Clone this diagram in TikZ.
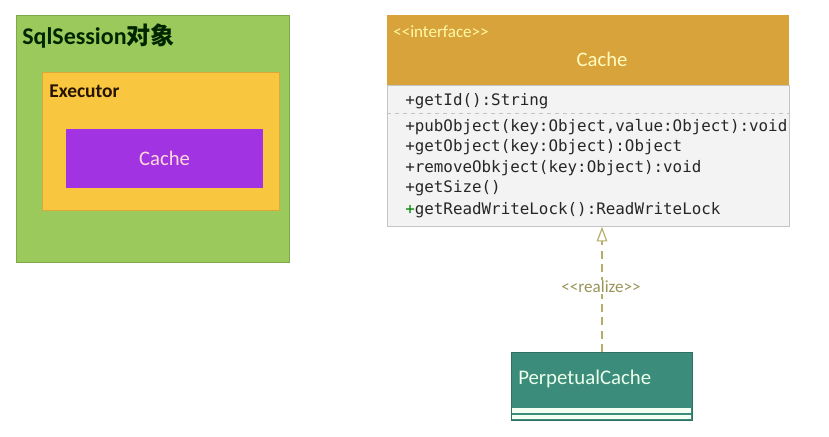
\documentclass[tikz,border=0pt]{standalone}
\usepackage{fontspec}
\setmainfont{Carlito}
\setmonofont{DejaVu Sans Mono}
\newfontfamily\cjk{Noto Sans CJK SC}
\usetikzlibrary{arrows.meta}

\definecolor{sessgreen}{HTML}{9CC95B}
\definecolor{sessline}{HTML}{7FA84A}
\definecolor{execyellow}{HTML}{F8C73F}
\definecolor{execline}{HTML}{D9A93A}
\definecolor{cachepurple}{HTML}{A233E3}
\definecolor{headorange}{HTML}{D9A33B}
\definecolor{bodygray}{HTML}{F3F3F3}
\definecolor{bodyline}{HTML}{C4C4C4}
\definecolor{perpteal}{HTML}{3C8C7B}
\definecolor{realizeolive}{HTML}{B5AE6A}

\begin{document}
\begin{tikzpicture}[x=0.75pt,y=-0.75pt]
		\tikzset{
			box/.style={anchor=north west, inner sep=0pt, line width=0.6pt},
			methodtext/.style={anchor=west, inner sep=0pt, font=\ttfamily\fontsize{11.9}{13}\selectfont, text=black!85},
		}
		\useasboundingbox (0,0) rectangle (829,436);
		% left: nested boxes
		\node[box, draw=sessline, fill=sessgreen, minimum width=204.75pt, minimum height=185.25pt] (session) at (16,15) {};
		\node[anchor=west, inner sep=0pt, text=black!85!green, font=\bfseries\fontsize{18}{20}\selectfont] (sessiontitle) at (22,36) {SqlSession{\cjk 对象}};
		\node[box, draw=execline, fill=execyellow, minimum width=177.75pt, minimum height=103.5pt] (executor) at (42,72) {};
		\node[anchor=west, inner sep=0pt, text=black!85!orange, font=\bfseries\fontsize{14.6}{16}\selectfont] (executortitle) at (49,91) {Executor};
		\node[box, fill=cachepurple, minimum width=147.75pt, minimum height=44.25pt] (cachebox) at (66,129) {};
		\node[text=pink!60!white, font=\fontsize{15.5}{17}\selectfont] (cachelabel) at (164.5,158) {Cache};
		% right: interface Cache
		\node[box, draw=bodyline, fill=bodygray, minimum width=301.5pt, minimum height=105.75pt] (ifacebody) at (387,85) {};
		\node[box, fill=headorange, minimum width=301.5pt, minimum height=52.5pt] (ifacehead) at (387,15) {};
		\node[anchor=west, inner sep=0pt, text=yellow!35!white, font=\fontsize{12.8}{14}\selectfont] (stereo) at (393,32) {<{}<interface>{}>};
		\node[text=yellow!25!white, font=\fontsize{15.5}{17}\selectfont] (ifacename) at (602,59) {Cache};
		\node[methodtext] (mid) at (405,101) {+getId():String};
		\draw[bodyline, dashed, line width=0.5pt] (387,113.5) -- (789,113.5);
		\node[methodtext] (m1) at (405,127) {+pubObject(key:Object,value:Object):void};
		\node[methodtext] (m2) at (405,147.5) {+getObject(key:Object):Object};
		\node[methodtext] (m3) at (405,168) {+removeObkject(key:Object):void};
		\node[methodtext] (m4) at (405,188.5) {+getSize()};
		\node[methodtext] (m5) at (405,210) {{\color{green!50!black}+}getReadWriteLock():ReadWriteLock};
		% PerpetualCache
		\node[box, draw=perpteal!80!black, fill=perpteal, minimum width=135.75pt, minimum height=51pt] (perp) at (511,352) {};
		\fill[green!5!white] (512,408) rectangle (691,413);
		\fill[green!5!white] (512,414.5) rectangle (691,419);
		\node[anchor=west, inner sep=0pt, text=green!8!white, font=\fontsize{15.6}{17}\selectfont] (perpname) at (518,379) {PerpetualCache};
		% realize
		\draw[realizeolive, dashed, dash pattern=on 6pt off 4pt, line width=0.9pt, -{Triangle[open, length=11pt, width=8pt]}] (perp.north -| ifacename.south) -- (ifacebody.south -| ifacename.south);
		\node[fill=white, inner sep=1pt, text=realizeolive!85!black, font=\fontsize{12.8}{14}\selectfont] (realize) at (601,287) {<{}<realize>{}>};
	\end{tikzpicture}
\end{document}
